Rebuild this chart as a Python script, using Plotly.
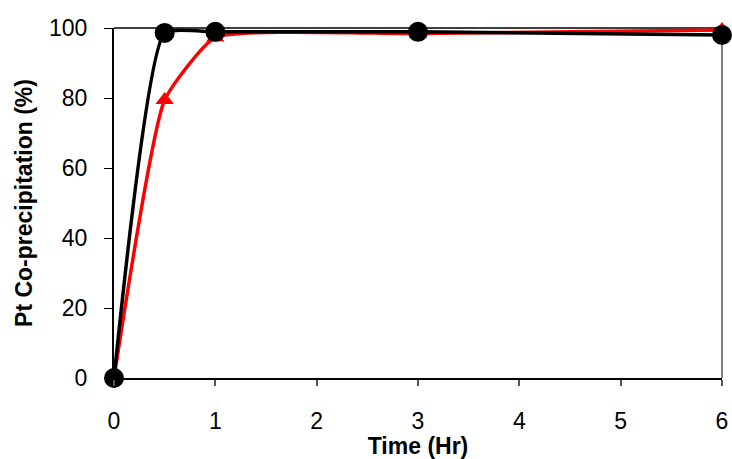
import plotly.graph_objects as go

# Sampling times (hours)
time_hr = [0, 0.5, 1, 3, 6]

# Pt co-precipitation (%) for the two runs
red_series = [0, 79.4, 97.3, 98.4, 99.4]
black_series = [0, 98.6, 98.9, 98.9, 98.0]

x_ticks = [0, 1, 2, 3, 4, 5, 6]
y_ticks = [0, 20, 40, 60, 80, 100]

FONT = "Liberation Sans, Arial, sans-serif"

fig = go.Figure()

fig.add_trace(go.Scatter(
    x=time_hr, y=red_series, mode="lines+markers",
    line=dict(color="#ff0000", width=3.5, shape="spline", smoothing=0.45),
    marker=dict(symbol="triangle-up", size=16, color="#ff0000"),
    cliponaxis=False, showlegend=False,
))
fig.add_trace(go.Scatter(
    x=time_hr, y=black_series, mode="lines+markers",
    line=dict(color="#000000", width=3.5, shape="spline", smoothing=0.45),
    marker=dict(symbol="circle", size=20, color="#000000"),
    cliponaxis=False, showlegend=False,
))

# Plot-area frame: black top edge, grey right edge
fig.add_shape(type="line", xref="paper", yref="paper", x0=0, x1=1, y0=1, y1=1,
              line=dict(color="#000000", width=1.3), layer="below")
fig.add_shape(type="line", xref="paper", yref="paper", x0=1, x1=1, y0=0, y1=1,
              line=dict(color="#808080", width=2), layer="below")

fig.update_layout(
    width=732, height=459,
    margin=dict(l=114, r=10, t=28, b=81),
    paper_bgcolor="white", plot_bgcolor="white",
    font=dict(family=FONT, size=23, color="#000000"),
    xaxis=dict(
        range=[0, 6], tickvals=x_ticks, ticks="outside", ticklen=6, tickwidth=1.5,
        tickcolor="#555555", showline=True, linecolor="#000000", linewidth=1.5,
        showgrid=False, zeroline=False, ticklabelstandoff=16, automargin=False,
        tickfont=dict(size=23),
        title=dict(text="<b>Time (Hr)</b>", font=dict(size=23), standoff=10),
    ),
    yaxis=dict(
        range=[0, 100], tickvals=y_ticks, ticks="outside", ticklen=8, tickwidth=1.3,
        tickcolor="#000000", showline=True, linecolor="#000000", linewidth=2,
        showgrid=False, zeroline=False, ticklabelstandoff=12, automargin=False,
        tickfont=dict(size=23),
        title=dict(text="<b>Pt Co-precipitation (%)</b>", font=dict(size=23), standoff=10),
    ),
)

fig.write_html("out.html")
